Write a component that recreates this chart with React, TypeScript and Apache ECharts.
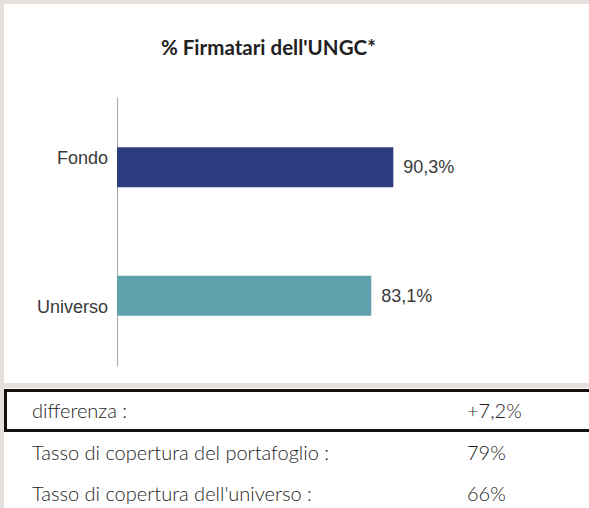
import React, { useEffect, useRef } from "react";
import * as echarts from "echarts";

const chartTitle = "% Firmatari dell'UNGC*";
const categories = ["Fondo", "Universo"];
const values = [90.3, 83.1];
const barColors = ["#2e3d7f", "#60a1ad"];
const tableLabels = [
  "differenza :",
  "Tasso di copertura del portafoglio :",
  "Tasso di copertura dell'universo :",
];
const tableValues = ["+7,2%", "79%", "66%"];

const fmt = (v: number) => v.toFixed(1).replace(".", ",") + "%";

export default function App() {
  const ref = useRef<HTMLDivElement>(null);
  useEffect(() => {
    if (!ref.current) return;
    const chart = echarts.init(ref.current, undefined, { renderer: "svg" });
    const rowY = [410, 452, 493];
    const textFont = "Lato, 'Noto Sans', sans-serif";
    const graphics: any[] = [
      {
        type: "text",
        x: 161,
        y: 47,
        style: {
          text: chartTitle,
          font: "bold 20.5px Lato, 'Noto Sans', sans-serif",
          fill: "#222222",
          verticalAlign: "middle",
        },
      },
    ];
    tableLabels.forEach((t, i) => {
      graphics.push({
        type: "text",
        x: 32,
        y: rowY[i],
        style: {
          text: t,
          fontFamily: textFont,
          fontWeight: 300,
          fontSize: 20,
          fill: "#1e1e1e",
          verticalAlign: "middle",
        },
      });
      graphics.push({
        type: "text",
        x: 467,
        y: rowY[i],
        style: {
          text: tableValues[i],
          fontFamily: textFont,
          fontWeight: 300,
          fontSize: 20,
          fill: "#1e1e1e",
          verticalAlign: "middle",
        },
      });
    });
    chart.setOption({
      animation: false,
      graphic: graphics,
      grid: [
        { left: 117, top: 103, height: 257, right: 166 },
        { left: 117, top: 98, height: 268, right: 166 },
      ],
      xAxis: [
        { type: "value", gridIndex: 0, min: 0, max: 100, show: false },
        { type: "value", gridIndex: 1, min: 0, max: 100, show: false },
      ],
      yAxis: [
        {
          type: "category",
          gridIndex: 0,
          data: categories,
          inverse: true,
          axisLine: { show: false },
          axisTick: { show: false },
          axisLabel: {
            margin: 9,
            formatter: (v: string) => (v === "Fondo" ? `{a|${v}}` : `{b|${v}}`),
            rich: {
              a: {
                fontFamily: "'Liberation Sans', Arial, sans-serif",
                fontSize: 18,
                color: "#3a3a3a",
                padding: [0, 0, 19, 0],
              },
              b: {
                fontFamily: "'Liberation Sans', Arial, sans-serif",
                fontSize: 18,
                color: "#3a3a3a",
                padding: [22, 0, 0, 0],
              },
            },
          },
        },
        {
          type: "value",
          gridIndex: 1,
          min: 0,
          max: 1,
          axisLine: { show: true, lineStyle: { color: "#a6a6a6", width: 1 } },
          axisTick: { show: false },
          axisLabel: { show: false },
          splitLine: { show: false },
        },
      ],
      series: [
        {
          type: "bar",
          xAxisIndex: 0,
          yAxisIndex: 0,
          barWidth: 40,
          data: values.map((v, i) => ({ value: v, itemStyle: { color: barColors[i] } })),
          label: {
            show: true,
            position: "right",
            distance: 10,
            formatter: (p: any) => fmt(p.value),
            fontFamily: "'Liberation Sans', Arial, sans-serif",
            fontSize: 18,
            color: "#3a3a3a",
          },
        },
      ],
    });
    return () => chart.dispose();
  }, []);

  return (
    <div
      style={{
        position: "absolute",
        left: 0,
        top: 0,
        width: 589,
        height: 508,
        background: "#e5e0db",
        overflow: "hidden",
      }}
    >
      <div style={{ position: "absolute", left: 4, top: 4, width: 600, height: 379, background: "#ffffff" }} />
      <div style={{ position: "absolute", left: 4, top: 388, width: 600, height: 130, background: "#ffffff" }} />
      <div
        style={{
          position: "absolute",
          left: 4,
          top: 389,
          width: 600,
          height: 37,
          border: "3px solid #111111",
        }}
      />
      <div ref={ref} style={{ position: "absolute", left: 0, top: 0, width: 589, height: 508 }} />
    </div>
  );
}
